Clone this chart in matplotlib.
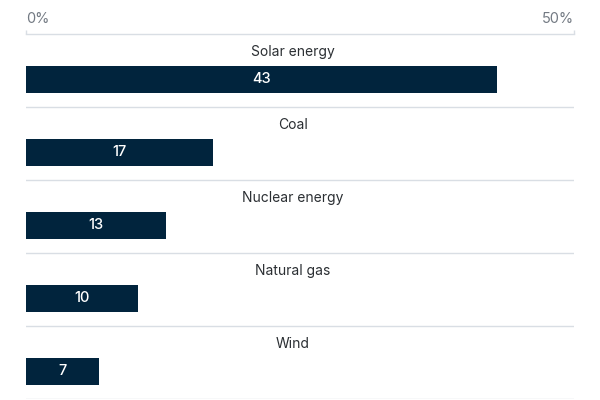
import matplotlib
matplotlib.use("Agg")
import matplotlib.pyplot as plt

categories = ["Solar energy", "Coal", "Nuclear energy", "Natural gas", "Wind"]
values = [42.97, 17.06, 12.77, 10.2, 6.66]
value_labels = ["43", "17", "13", "10", "7"]
tick_values = [0, 50]
tick_labels = ["0%", "50%"]

plt.rcParams['font.family'] = ['Inter', 'DejaVu Sans']

bar_color = "#01243d"
grid_color = "#d9dee4"
tick_color = "#737a83"
text_color = "#2b2f33"

fig = plt.figure(figsize=(6, 4), dpi=100)
ax = fig.add_axes([26/600, 1 - 399/400, 548/600, 365/400])

row_off = 0.623
bar_h = 0.37
ys = [i + row_off for i in range(len(categories))]
ax.barh(ys, values, height=bar_h, color=bar_color, left=0)

for i, (c, v, lab) in enumerate(zip(categories, values, value_labels)):
    ax.text(0.487, i + 0.245, c, transform=ax.get_yaxis_transform(), ha="center", va="center",
            fontsize=10, color=text_color)
    ax.text(v / 2, ys[i], lab, ha="center", va="center", fontsize=10.5,
            color="white", fontweight="medium")

for k in range(1, len(categories) + 1):
    ax.axhline(k, color=grid_color, lw=1, zorder=0)

ax.set_xlim(0, 50)
ax.set_ylim(len(categories), 0)
ax.set_yticks([])
ax.xaxis.tick_top()
ax.set_xticks(tick_values)
ax.set_xticklabels(tick_labels)
for lab, ha in zip(ax.get_xticklabels(), ["left", "right"]):
    lab.set_ha(ha)
ax.tick_params(axis="x", colors=grid_color, labelcolor=tick_color, labelsize=10.5,
               length=3, width=1, pad=3)
for s in ["left", "right", "bottom"]:
    ax.spines[s].set_visible(False)
ax.spines["top"].set_color(grid_color)
ax.spines["top"].set_linewidth(1)

fig.savefig("out.png", dpi=100)
